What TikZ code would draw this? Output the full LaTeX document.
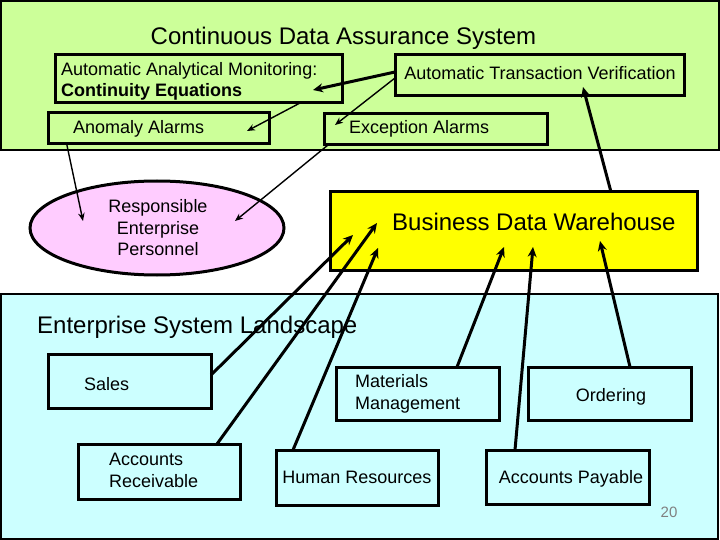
\documentclass[tikz,border=0pt]{standalone}
\usepackage{fontspec}
\setmainfont{Liberation Sans}
\usetikzlibrary{arrows.meta}
\definecolor{bandgreen}{RGB}{204,255,153}
\definecolor{bandcyan}{RGB}{204,255,255}
\definecolor{ellpink}{RGB}{255,204,255}
\definecolor{whyellow}{RGB}{255,255,0}
\tikzset{
  band/.style={draw=black, line width=2.8pt},
  box/.style={draw=black, line width=3pt, rectangle, anchor=north west, outer sep=0pt, inner sep=0pt},
  txt/.style={inner sep=0pt, font=\fontsize{18}{21}\selectfont},
  bigtxt/.style={inner sep=0pt, font=\fontsize{24}{28}\selectfont},
  thinarrow/.style={line width=1.4pt, -{Stealth[length=8pt,width=6.5pt]}},
  thickarrow/.style={line width=3pt, -{Stealth[length=10pt,width=9pt]}},
}
\begin{document}
\begin{tikzpicture}[x=1pt,y=-1pt]
\useasboundingbox (0,0) rectangle (720,540);
% bands
\path[band, fill=bandgreen] (1,1) rectangle (719,150);
\path[band, fill=bandcyan] (1,294) rectangle (718,539);
% title texts
\node[bigtxt, anchor=base] (title) at (343.5,45) {Continuous Data Assurance System};
\node[bigtxt, anchor=base west] (esl) at (37,333) {Enterprise System Landscape};
% top boxes
\node[box, minimum width=287pt, minimum height=48pt] (aam) at (55,55) {};
\node[txt, anchor=base west] (aamt1) at (61,76) {Automatic Analytical Monitoring:};
\node[txt, anchor=base west] (aamt2) at (61,97) {\bfseries Continuity Equations};
\node[box, minimum width=289pt, minimum height=41pt] (atv) at (395,55) {};
\node[txt, anchor=base] (atvt) at (540,80) {Automatic Transaction Verification};
\node[box, minimum width=221pt, minimum height=31pt] (anom) at (48,113) {};
\node[txt, anchor=base west] (anomt) at (73,134) {Anomaly Alarms};
\node[box, minimum width=223pt, minimum height=31pt] (exc) at (324,114) {};
\node[txt, anchor=base west] (exct) at (349,134) {Exception Alarms};
% ellipse
\path[draw=black, line width=3pt, fill=ellpink] (157,228) ellipse [x radius=127, y radius=47];
\node[txt, anchor=base] (rep1) at (158,213) {Responsible};
\node[txt, anchor=base] (rep2) at (158,234) {Enterprise};
\node[txt, anchor=base] (rep3) at (158,255) {Personnel};
% warehouse
\node[box, fill=whyellow, minimum width=367pt, minimum height=78pt] (bdw) at (330,192) {};
\node[bigtxt, anchor=base west] (bdwt) at (392,230.5) {Business Data Warehouse};
% bottom boxes
\node[box, minimum width=163pt, minimum height=54pt] (sales) at (48,354) {};
\node[txt, anchor=base west] (salest) at (84,390) {Sales};
\node[box, minimum width=162pt, minimum height=55pt] (ar) at (78,444) {};
\node[txt, anchor=base west] (art1) at (109,465) {Accounts};
\node[txt, anchor=base west] (art2) at (109,487) {Receivable};
\node[box, minimum width=162pt, minimum height=55pt] (hr) at (276,450) {};
\node[txt, anchor=base] (hrt) at (357,483) {Human Resources};
\node[box, minimum width=163pt, minimum height=54pt] (ap) at (486,450) {};
\node[txt, anchor=base] (apt) at (571,483) {Accounts Payable};
\node[box, minimum width=163pt, minimum height=53pt] (mm) at (336,367) {};
\node[txt, anchor=base west] (mmt1) at (355,387) {Materials};
\node[txt, anchor=base west] (mmt2) at (355,409) {Management};
\node[box, minimum width=163pt, minimum height=53pt] (ord) at (528,367) {};
\node[txt, anchor=base] (ordt) at (611,401) {Ordering};
\node[inner sep=0pt, anchor=base, text=gray, font=\fontsize{15}{18}\selectfont] (pg) at (669,517) {20};
% arrow tips (free ends)
\coordinate (t1) at (313,90);
\coordinate (t2) at (335,125);
\coordinate (t3) at (247,131);
\coordinate (t4) at (83,221);
\coordinate (t5) at (235,221);
\coordinate (t6) at (583,87);
\coordinate (t7) at (353,235);
\coordinate (t8) at (377,223);
\coordinate (t9) at (378,248);
\coordinate (t10) at (504,247);
\coordinate (t11) at (533,247);
\coordinate (t12) at (600,241);
% connectors
\draw[thickarrow] ([yshift=3.5pt]atv.west) -- (t1);
\draw[thinarrow] ([yshift=-2.5pt]atv.west) -- (t2);
\draw[thinarrow] ([xshift=101.5pt]aam.south) -- (t3);
\draw[thinarrow] ([xshift=18.7pt]anom.south west) -- (t4);
\draw[thinarrow] ([xshift=4pt]exc.south west) -- (t5);
\draw[thickarrow] ([xshift=97.5pt]bdw.north) -- (t6);
\draw[thickarrow] ([yshift=6pt]sales.east) -- (t7);
\draw[thickarrow] ([xshift=58pt]ar.north) -- (t8);
\draw[thickarrow] ([xshift=-64pt]hr.north) -- (t9);
\draw[thickarrow] ([xshift=39.5pt]mm.north) -- (t10);
\draw[thickarrow] ([xshift=-52.5pt]ap.north) -- (t11);
\draw[thickarrow] ([xshift=20.5pt]ord.north) -- (t12);
\end{tikzpicture}
\end{document}
